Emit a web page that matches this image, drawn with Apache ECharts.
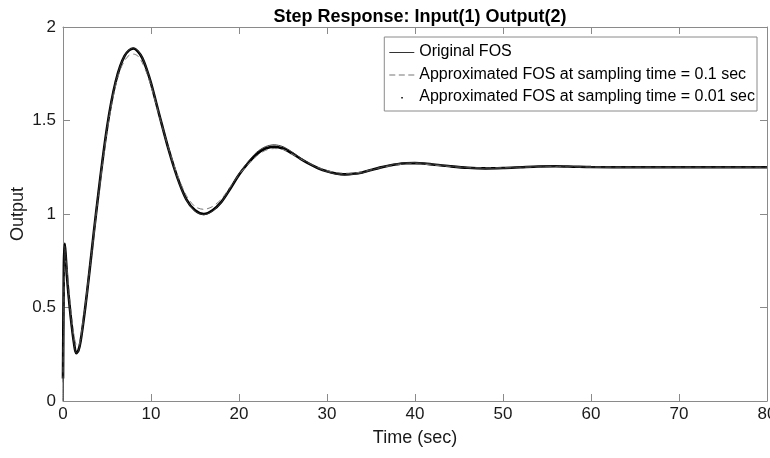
<!DOCTYPE html>
<html>
<head>
<meta charset="utf-8">
<script src="https://cdn.jsdelivr.net/npm/echarts@6/dist/echarts.min.js"></script>
<style>html,body{margin:0;padding:0;background:#fff}#c{width:770px;height:458px}</style>
</head>
<body>
<div id="c"></div>
<script>
const times = [0, 0.1, 0.2, 0.3, 0.5, 0.75, 1.0, 1.25, 1.5, 1.75, 2, 2.5, 3, 3.5, 4, 4.5, 5, 5.5, 6, 6.5, 7, 7.5, 8, 8.5, 9, 9.5, 10, 11, 12, 13, 14, 15, 16, 17, 18, 19, 20, 21, 22, 23, 24, 25, 26, 27, 28, 29, 30, 31, 32, 33, 34, 35, 36, 37, 38, 39, 40, 41, 42, 44, 46, 48, 50, 52, 54, 56, 58, 60, 65, 70, 75, 80];
const originalFOS = [0, 0.6, 0.83, 0.79, 0.65, 0.51, 0.4, 0.31, 0.257, 0.268, 0.32, 0.49, 0.69, 0.9, 1.1, 1.29, 1.46, 1.6, 1.71, 1.79, 1.846, 1.877, 1.888, 1.873, 1.837, 1.777, 1.702, 1.522, 1.345, 1.193, 1.078, 1.016, 0.996, 1.016, 1.064, 1.137, 1.215, 1.278, 1.33, 1.36, 1.37, 1.36, 1.333, 1.3, 1.27, 1.245, 1.226, 1.214, 1.209, 1.212, 1.22, 1.234, 1.248, 1.26, 1.269, 1.274, 1.275, 1.272, 1.267, 1.256, 1.247, 1.243, 1.245, 1.25, 1.254, 1.256, 1.254, 1.251, 1.25, 1.25, 1.25, 1.25];
const fosTs01 = [0.1, 0.55, 0.72, 0.75, 0.68, 0.55, 0.44, 0.35, 0.3, 0.295, 0.34, 0.5, 0.69, 0.89, 1.09, 1.27, 1.44, 1.58, 1.69, 1.77, 1.82, 1.848, 1.855, 1.845, 1.81, 1.755, 1.685, 1.515, 1.35, 1.21, 1.1, 1.04, 1.025, 1.04, 1.08, 1.145, 1.21, 1.265, 1.31, 1.34, 1.35, 1.345, 1.322, 1.295, 1.27, 1.248, 1.232, 1.222, 1.218, 1.219, 1.225, 1.236, 1.247, 1.256, 1.263, 1.267, 1.268, 1.266, 1.262, 1.254, 1.248, 1.246, 1.247, 1.25, 1.253, 1.254, 1.253, 1.251, 1.25, 1.25, 1.25, 1.25];
const fosTs001 = [0.12, 0.72, 0.84, 0.78, 0.64, 0.51, 0.4, 0.31, 0.255, 0.27, 0.32, 0.49, 0.69, 0.9, 1.1, 1.29, 1.46, 1.6, 1.71, 1.79, 1.845, 1.875, 1.885, 1.87, 1.835, 1.775, 1.7, 1.52, 1.345, 1.195, 1.08, 1.02, 1.0, 1.02, 1.065, 1.135, 1.21, 1.27, 1.32, 1.35, 1.36, 1.35, 1.325, 1.295, 1.268, 1.245, 1.228, 1.217, 1.212, 1.215, 1.222, 1.235, 1.248, 1.258, 1.266, 1.271, 1.272, 1.27, 1.265, 1.255, 1.247, 1.244, 1.246, 1.25, 1.254, 1.255, 1.253, 1.251, 1.25, 1.25, 1.25, 1.25];
const xTicks = [0, 10, 20, 30, 40, 50, 60, 70, 80];
const yTicks = [0, 0.5, 1, 1.5, 2];
const seriesNames = ['Original FOS', 'Approximated FOS at sampling time = 0.1 sec', 'Approximated FOS at sampling time = 0.01 sec'];

const pair = vals => times.map((t, i) => [t, vals[i]]);
const FONT = '"Liberation Sans", Arial, sans-serif';
const AXC = '#8a8a8a';
const TXT = '#1a1a1a';

const chart = echarts.init(document.getElementById('c'), null, {renderer: 'canvas'});
const baseX = {
  type: 'value', min: xTicks[0], max: xTicks[xTicks.length - 1], interval: 10,
  axisLine: {show: true, onZero: false, lineStyle: {color: AXC, width: 1}},
  axisTick: {show: true, inside: true, length: 7, lineStyle: {color: AXC}},
  splitLine: {show: false}
};
const baseY = {
  type: 'value', min: yTicks[0], max: yTicks[yTicks.length - 1], interval: 0.5,
  axisLine: {show: true, onZero: false, lineStyle: {color: AXC, width: 1}},
  axisTick: {show: true, inside: true, length: 7, lineStyle: {color: AXC}},
  splitLine: {show: false}
};
chart.setOption({
  animation: false,
  backgroundColor: '#fff',
  title: {
    text: 'Step Response: Input(1) Output(2)', left: 415, textAlign: 'center', top: 3,
    textStyle: {fontFamily: FONT, fontSize: 18, fontWeight: 'bold', color: '#000'}
  },
  grid: {left: 63, right: 3, top: 27, bottom: 57, containLabel: false, outerBoundsMode: 'none'},
  legend: {
    show: true, orient: 'vertical', right: 13, top: 37,
    backgroundColor: '#fff', borderColor: '#8a8a8a', borderWidth: 1,
    padding: [7, 2, 6, 5], itemGap: 6.5, itemWidth: 25, itemHeight: 14,
    textStyle: {fontFamily: FONT, fontSize: 16, color: '#000'},
    data: [
      {name: seriesNames[0], icon: 'path://M0,0M25,14M0,7h25v1h-25z', itemStyle: {color: '#333'}},
      {name: seriesNames[1], icon: 'path://M0,0M25,14M0,7h6v1h-6zM9.5,7h6v1h-6zM19,7h6v1h-6z', itemStyle: {color: '#777'}},
      {name: seriesNames[2], icon: 'path://M0,0M25,14M12,7h1.5v1.5h-1.5z', itemStyle: {color: '#000'}}
    ]
  },
  xAxis: [
    Object.assign({}, baseX, {
      position: 'bottom',
      axisLabel: {show: true, color: TXT, fontFamily: FONT, fontSize: 17, margin: 5},
      name: 'Time (sec)', nameLocation: 'middle', nameGap: 28, nameMoveOverlap: false,
      nameTextStyle: {color: TXT, fontFamily: FONT, fontSize: 18}
    }),
    Object.assign({}, baseX, {position: 'top', axisLabel: {show: false}})
  ],
  yAxis: [
    Object.assign({}, baseY, {
      position: 'left',
      axisLabel: {show: true, color: TXT, fontFamily: FONT, fontSize: 17, margin: 7},
      name: 'Output', nameLocation: 'middle', nameGap: 36, nameMoveOverlap: false,
      nameTextStyle: {color: TXT, fontFamily: FONT, fontSize: 18}
    }),
    Object.assign({}, baseY, {position: 'right', axisLabel: {show: false}})
  ],
  series: [
    {
      name: seriesNames[0], type: 'line', data: pair(originalFOS), smooth: 0.3,
      showSymbol: false, symbol: 'none', z: 4,
      lineStyle: {color: '#333', width: 1}, itemStyle: {color: '#333'}
    },
    {
      name: seriesNames[1], type: 'line', data: pair(fosTs01), smooth: 0.3,
      showSymbol: false, symbol: 'none', z: 3,
      lineStyle: {color: '#777', width: 1, type: [6, 4]}, itemStyle: {color: '#777'}
    },
    {
      name: seriesNames[2], type: 'line', data: pair(fosTs001), smooth: 0.3,
      showSymbol: false, symbol: 'none', z: 2,
      lineStyle: {color: '#000', width: 2.6}, itemStyle: {color: '#000'}
    }
  ]
});
</script>
</body>
</html>
